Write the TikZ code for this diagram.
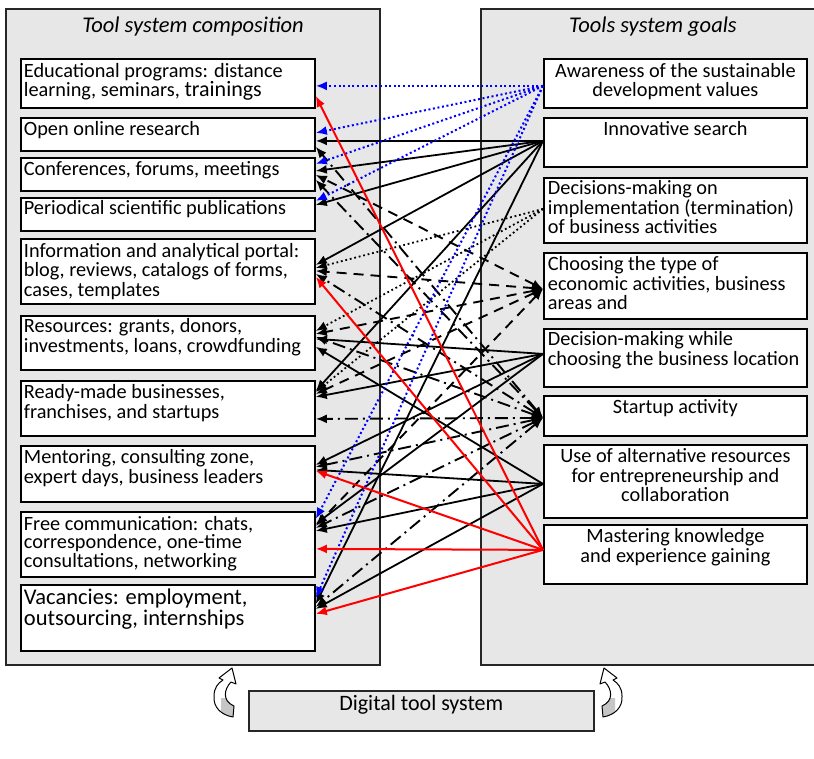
\documentclass[tikz,border=0pt]{standalone}
\usepackage{fontspec}
\setmainfont{Carlito}
\usetikzlibrary{arrows.meta}
\definecolor{panelgray}{HTML}{E7E7E7}
\definecolor{frame}{HTML}{262626}
\newcommand\AL{\raggedright\leftskip=3pt\relax}
\newcommand\ALR{\raggedright\leftskip=4pt\relax}
\newcommand\CT{\centering}
\newcommand\bxt[5]{\parbox[t][#2pt][t]{#1pt}{#3\rule{0pt}{#4pt}#5}}
\begin{document}
\begin{tikzpicture}[x=1pt,y=-1pt,
  panel/.style={draw=frame,line width=1.6pt,fill=panelgray},
  tbox/.style={draw=black,line width=1.8pt,fill=white,inner sep=0pt,anchor=north west,font=\fontsize{20.3}{19.5}\selectfont},
  ttl/.style={font=\fontsize{22.5}{24}\selectfont\itshape,anchor=base,inner sep=0pt},
  dbox/.style={draw=frame,line width=1.6pt,fill=panelgray,inner sep=0pt,anchor=north west,font=\fontsize{22}{22}\selectfont},
  tipone/.style={-{Latex[length=11pt,width=9pt]}},
  tiptwo/.style={{Latex[length=11pt,width=9pt]}-{Latex[length=11pt,width=9pt]}},
  lA/.style={blue,line width=2pt,dash pattern=on 2pt off 2.6pt,tipone},
  lI/.style={black,line width=1.8pt,tipone},
  lD/.style={black,line width=1.8pt,dash pattern=on 1.8pt off 2.8pt,tipone},
  lC/.style={black,line width=1.9pt,dash pattern=on 10pt off 7pt,tiptwo},
  lS/.style={black,line width=1.9pt,dash pattern=on 13pt off 5pt on 2pt off 5pt,tiptwo},
  lM/.style={red,line width=2pt,tipone},
  pics/curv/.style={code={
    \path[fill=white] (233,717) .. controls (221,715) and (213,707) .. (214,696)
       .. controls (214,688) and (218,683) .. (223,680) -- (219,678) -- (232,668)
       -- (236,684) -- (231,682) .. controls (224,689) and (222,701) .. (234,706) -- cycle;
    \begin{scope}
      \clip (221,698) rectangle (240,722);
      \fill[gray!45] (233,717) .. controls (221,715) and (213,707) .. (214,696)
       .. controls (214,688) and (218,683) .. (223,680) -- (219,678) -- (232,668)
       -- (236,684) -- (231,682) .. controls (224,689) and (222,701) .. (234,706) -- cycle;
    \end{scope}
    \draw[line width=1pt,line join=round] (233,717) .. controls (221,715) and (213,707) .. (214,696)
       .. controls (214,688) and (218,683) .. (223,680) -- (219,678) -- (232,668)
       -- (236,684) -- (231,682) .. controls (224,689) and (222,701) .. (234,706) -- cycle;
  }}]
\useasboundingbox (0,0) rectangle (814,759);
\fill[white] (0,0) rectangle (814,759);

% panels
\draw[panel] (6,9) rectangle (380,665);
\draw[panel] (481,9) rectangle (830,665);
\node[ttl] (t1) at (193,33) {Tool system composition};
\node[ttl] (t2) at (653,33) {Tools system goals};

% left boxes
\node[tbox] (edu) at (20,58) {\bxt{294}{49}{\AL}{18.5}{Educational programs: distance\\learning, seminars, {\fontsize{22}{19.5}\selectfont trainings}}};
\node[tbox] (oor) at (20,117) {\bxt{294}{33}{\AL}{18}{Open online research}};
\node[tbox] (conf) at (20,157) {\bxt{294}{33}{\AL}{18}{Conferences, forums, meetings}};
\node[tbox] (per) at (20,197) {\bxt{294}{33}{\AL}{17}{Periodical scientific publications}};
\node[tbox] (info) at (20,238) {\bxt{294}{65}{\AL}{18.5}{Information and analytical portal:\\blog, reviews, catalogs of forms,\\cases, templates}};
\node[tbox] (res) at (20,315) {\bxt{294}{54}{\AL}{17}{Resources: grants, donors,\\investments, loans, crowdfunding}};
\node[tbox] (ready) at (20,380) {\bxt{294}{55}{\AL}{18}{Ready-made businesses,\\franchises, and startups}};
\node[tbox] (ment) at (20,445) {\bxt{294}{56}{\AL}{18}{Mentoring, consulting zone,\\expert days, business leaders}};
\node[tbox,font=\fontsize{20.3}{18.5}\selectfont] (free) at (20,511) {\bxt{294}{65}{\AL}{18.5}{Free communication: chats,\\correspondence, one-time\\consultations, networking}};
\node[tbox,font=\fontsize{22.5}{21}\selectfont] (vac) at (20,584) {\bxt{294}{66}{\AL}{20}{Vacancies: employment,\\outsourcing, internships}};

% right boxes
\node[tbox] (aw) at (543,58) {\bxt{263}{49}{\CT}{18.5}{Awareness of the sustainable\\development values}};
\node[tbox] (inn) at (543,117) {\bxt{263}{49}{\CT}{18}{Innovative search}};
\node[tbox] (dec) at (543,177) {\bxt{263}{65}{\ALR}{17}{Decisions-making on\\implementation (termination)\\of business activities}};
\node[tbox] (cho) at (543,252) {\bxt{263}{66}{\ALR}{18}{Choosing the type of\\economic activities, business\\areas and}};
\node[tbox] (loc) at (543,328) {\bxt{263}{58}{\ALR}{17}{Decision-making while\\choosing the business location}};
\node[tbox] (sta) at (543,395) {\bxt{263}{40}{\CT}{18}{Startup activity}};
\node[tbox] (use) at (543,444) {\bxt{263}{73}{\CT}{18}{Use of alternative resources\\for entrepreneurship and\\collaboration}};
\node[tbox] (mas) at (543,524) {\bxt{263}{59}{\CT}{18}{Mastering knowledge\\and experience gaining}};

% bottom
\node[dbox] (dig) at (248,690) {\bxt{345}{40}{\CT}{20}{Digital tool system}};
\pic at (0,0) {curv};
\pic[xscale=-1] at (836,0) {curv};

% source ports
\coordinate (pA) at ([yshift=-2.5pt]aw.west);
\coordinate (pI) at ([yshift=1.5pt]inn.west);
\coordinate (pD) at ([yshift=1.5pt]dec.west);
\coordinate (pC) at ([yshift=-3pt]cho.west);
\coordinate (pL) at ([yshift=4pt]loc.west);
\coordinate (pS) at ([yshift=-2pt]sta.west);
\coordinate (pU) at ([yshift=-2.5pt]use.west);
\coordinate (pM) at ([yshift=4.5pt]mas.west);

% Startup activity (dash-dot)
\draw[lS] (pS) -- ([yshift=-12.5pt]oor.east);
\draw[lS] (pS) -- ([yshift=-5.5pt]conf.east);
\draw[lS] (pS) -- ([yshift=-2.5pt]info.east);
\draw[lS] (pS) -- ([yshift=6pt]res.east);
\draw[lS] (pS) -- ([yshift=-10.5pt]ready.east);
\draw[lS] (pS) -- ([yshift=7pt]ment.east);
\draw[lS] (pS) -- ([yshift=16.5pt]free.east);
\draw[lS] (pS) -- ([yshift=11pt]vac.east);

% Choosing the type (dashed)
\draw[lC] (pC) -- ([yshift=-0.5pt]conf.east);
\draw[lC] (pC) -- ([yshift=0.5pt]info.east);
\draw[lC] (pC) -- ([yshift=9pt]res.east);
\draw[lC] (pC) -- ([yshift=14.5pt]ready.east);
\draw[lC] (pC) -- ([yshift=18.5pt]free.east);

% Decisions-making on implementation (dotted)
\draw[lD] (pD) -- ([yshift=3.5pt]info.east);
\draw[lD] (pD) -- ([yshift=12pt]res.east);
\draw[lD] (pD) -- ([yshift=16.5pt]ready.east);

% Innovative search
\draw[lI] (pI) -- ([yshift=-6.5pt]oor.east);
\draw[lI] (pI) -- ([yshift=3.5pt]conf.east);
\draw[lI] (pI) -- ([yshift=9.5pt]per.east);
\draw[lI] (pI) -- ([yshift=6.5pt]info.east);
\draw[lI] (pI) -- ([yshift=17.5pt]ready.east);
\draw[lI] (pI) -- ([yshift=14pt]vac.east);

% Decision-making while choosing the business location
\draw[lI] (pL) -- ([yshift=4pt]res.east);
\draw[lI] (pL) -- ([yshift=11.5pt]ready.east);
\draw[lI] (pL) -- ([yshift=9pt]ment.east);
\draw[lI] (pL) -- ([yshift=20.5pt]free.east);

% Use of alternative resources
\draw[lI] (pU) -- ([yshift=-4pt]res.east);
\draw[lI] (pU) -- ([yshift=4pt]ment.east);
\draw[lI] (pU) -- ([yshift=13.5pt]free.east);
\draw[lI] (pU) -- ([yshift=9pt]vac.east);

% Awareness (blue dotted)
\draw[lA] (pA) -- ([yshift=-2.5pt]edu.east);
\draw[lA] (pA) -- ([yshift=1.5pt]oor.east);
\draw[lA] (pA) -- ([yshift=10.5pt]conf.east);
\draw[lA] (pA) -- ([yshift=13.5pt]per.east);
\draw[lA] (pA) -- ([yshift=25.5pt]free.east);
\draw[lA] (pA) -- ([yshift=20pt]vac.east);

% Mastering knowledge (red)
\draw[lM] (pM) -- ([yshift=-12.5pt]edu.east);
\draw[lM] (pM) -- ([yshift=-5.5pt]info.east);
\draw[lM] (pM) -- ([yshift=3pt]ment.east);
\draw[lM] (pM) -- ([yshift=-4.5pt]free.east);
\draw[lM] (pM) -- ([yshift=4pt]vac.east);
\end{tikzpicture}
\end{document}
